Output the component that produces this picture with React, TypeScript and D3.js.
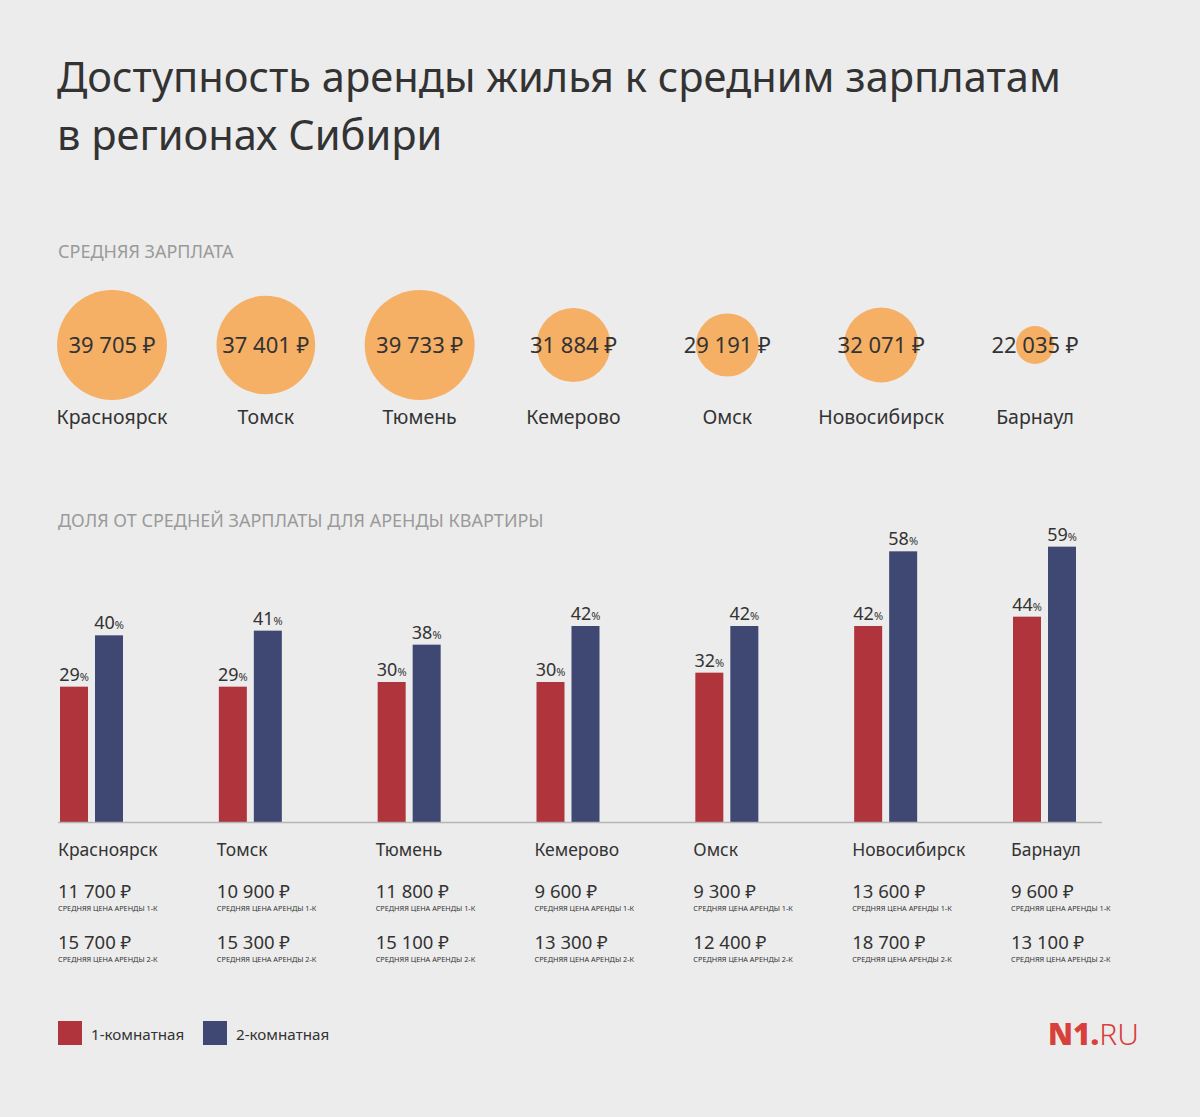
import React, { useEffect } from "react";
import * as d3 from "d3";

const cities = ["Красноярск", "Томск", "Тюмень", "Кемерово", "Омск", "Новосибирск", "Барнаул"];
const salaries = [39705, 37401, 39733, 31884, 29191, 32071, 22035];
const share1k = [29, 29, 30, 30, 32, 42, 44];
const share2k = [40, 41, 38, 42, 42, 58, 59];
const rent1k = [11700, 10900, 11800, 9600, 9300, 13600, 9600];
const rent2k = [15700, 15300, 15100, 13300, 12400, 18700, 13100];
const seriesKeys = ["1-комнатная", "2-комнатная"];

const FONT = "'Noto Sans', 'DejaVu Sans', sans-serif";
const TEXT = "#333333";
const GREY = "#9a9a9a";
const RED = "#b0343c";
const BLUE = "#3f4773";
const ORANGE = "#f5b066";
const BG = "#ececec";

const fmt = (v: number) => d3.format(",")(v).replace(/,/g, " ") + " ₽";

export default function App() {
  useEffect(() => {
    document.body.style.margin = "0";
    document.body.style.background = BG;
  }, []);

  const W = 1200, H = 1117;

  // bubbles
  const xBubble = d3.scalePoint<string>().domain(cities).range([112, 1035]);
  const rBubble = d3.scalePow().exponent(1.8).domain([0, d3.max(salaries)!]).range([0, 55]);
  const bubbleY = 345;

  // bars
  const xGroup = d3.scalePoint<string>().domain(cities).range([60, 1013]);
  const xInner = d3.scaleBand<string>().domain(seriesKeys).range([0, 63]).paddingInner(0.2);
  const baseY = 822;
  const y = d3.scaleLinear().domain([0, 60]).range([baseY, baseY - 280]);
  const colors = [RED, BLUE];
  const shares = [share1k, share2k];

  return (
    <svg width={W} height={H} style={{ display: "block", background: BG }} fontFamily={FONT}>
      <rect x={0} y={0} width={W} height={H} fill={BG} />
      <text x={57} y={92} fontSize={41.6} fill={TEXT}>Доступность аренды жилья к средним зарплатам</text>
      <text x={57} y={150} fontSize={41.6} fill={TEXT}>в регионах Сибири</text>

      <text x={58} y={258} fontSize={18} fill={GREY}>СРЕДНЯЯ ЗАРПЛАТА</text>

      {cities.map((c, i) => (
        <g key={"b" + c}>
          <circle cx={xBubble(c)} cy={bubbleY} r={rBubble(salaries[i])} fill={ORANGE} />
          <text x={xBubble(c)} y={bubbleY + 8} fontSize={22} fill={TEXT} textAnchor="middle">{fmt(salaries[i])}</text>
          <text x={xBubble(c)} y={424} fontSize={19.5} fill={TEXT} textAnchor="middle">{c}</text>
        </g>
      ))}

      <text x={58} y={527} fontSize={18} fill={GREY}>ДОЛЯ ОТ СРЕДНЕЙ ЗАРПЛАТЫ ДЛЯ АРЕНДЫ КВАРТИРЫ</text>

      {cities.map((c, i) => (
        <g key={"g" + c} transform={`translate(${xGroup(c)},0)`}>
          {seriesKeys.map((k, j) => {
            const v = shares[j][i];
            const bx = xInner(k)!;
            const bw = xInner.bandwidth();
            return (
              <g key={k}>
                <rect x={bx} y={y(v)} width={bw} height={baseY - y(v)} fill={colors[j]} />
                <text x={bx + bw / 2} y={y(v) - 6} fontSize={18} fill={TEXT} textAnchor="middle">
                  {v}
                  <tspan fontSize={11}>%</tspan>
                </text>
              </g>
            );
          })}
        </g>
      ))}
      <line x1={58} x2={1102} y1={baseY + 0.5} y2={baseY + 0.5} stroke="#b5b5b5" strokeWidth={1.5} />

      {cities.map((c, i) => {
        const x = xGroup(c)! - 2;
        return (
          <g key={"l" + c}>
            <text x={x} y={856} fontSize={17.5} fill={TEXT}>{c}</text>
            <text x={x} y={898} fontSize={18.5} fill={TEXT}>{fmt(rent1k[i])}</text>
            <text x={x} y={911} fontSize={7.3} fill={TEXT}>СРЕДНЯЯ ЦЕНА АРЕНДЫ 1-К</text>
            <text x={x} y={949} fontSize={18.5} fill={TEXT}>{fmt(rent2k[i])}</text>
            <text x={x} y={962} fontSize={7.3} fill={TEXT}>СРЕДНЯЯ ЦЕНА АРЕНДЫ 2-К</text>
          </g>
        );
      })}

      {seriesKeys.map((k, j) => (
        <g key={"lg" + k} transform={`translate(${58 + j * 145},1021)`}>
          <rect x={0} y={0} width={24} height={24} fill={colors[j]} />
          <text x={33} y={19} fontSize={15.2} fill={TEXT}>{k}</text>
        </g>
      ))}

      <text x={1048} y={1045} fontSize={30} fill="#d8403b">
        <tspan fontWeight={900}>N1.</tspan>
        <tspan fontWeight={300}>RU</tspan>
      </text>
    </svg>
  );
}
